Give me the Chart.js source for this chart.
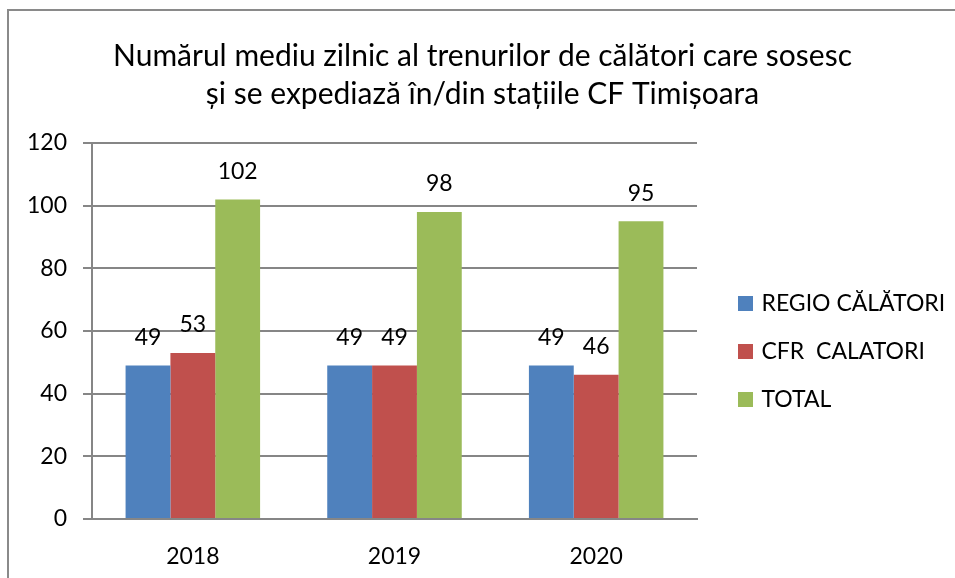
<!DOCTYPE html>
<html>
<head>
<meta charset="utf-8">
<script src="https://cdn.jsdelivr.net/npm/chart.js@4.4.1/dist/chart.umd.min.js"></script>
<style>
  html, body { margin: 0; padding: 0; background: #fff; }
  #wrap { position: absolute; left: 0; top: 0; width: 955px; height: 578px; }
  #frame { position: absolute; left: 7px; top: 9px; width: 960px; height: 600px;
           border-top: 2px solid #8a8a8a; border-left: 2px solid #8a8a8a; pointer-events: none; }
  canvas { position: absolute; left: 0; top: 0; }
</style>
</head>
<body>
<div id="wrap">
  <canvas id="c" width="955" height="578"></canvas>
  <div id="frame"></div>
</div>
<script>
const titleLines = ["Numărul mediu zilnic al trenurilor de călători care sosesc",
                    "și se expediază în/din stațiile CF Timișoara"];
const categories = ["2018", "2019", "2020"];
const seriesNames = ["REGIO CĂLĂTORI", "CFR  CALATORI", "TOTAL"];
const regioValues = [49, 49, 49];
const cfrValues = [53, 49, 46];
const totalValues = [102, 98, 95];
const yTicks = [0, 20, 40, 60, 80, 100, 120];

const FONT = "Lato, 'Noto Sans', sans-serif";
const colors = ["#4F81BD", "#C0504D", "#9BBB59"];
const LEGEND_WIDTH = 248;

// legend swatch: a 34x15 image with the 15x15 coloured square at its right end
function makeSwatch(color) {
  const cv = document.createElement("canvas");
  cv.width = 34; cv.height = 15;
  const g = cv.getContext("2d");
  g.fillStyle = color;
  g.fillRect(19, 0, 15, 15);
  return cv;
}
const swatches = colors.map(makeSwatch);

const legendWidthFix = {
  id: "legendWidthFix",
  beforeLayout(chart) {
    const lg = chart.legend;
    if (lg && !lg.__patched) {
      const orig = lg.fit;
      lg.fit = function () { orig.call(this); this.width = LEGEND_WIDTH; };
      lg.__patched = true;
    }
  }
};

const valueLabels = {
  id: "valueLabels",
  afterDatasetsDraw(chart) {
    const ctx = chart.ctx;
    ctx.save();
    ctx.font = "23px " + FONT;
    ctx.fillStyle = "#000";
    ctx.textAlign = "center";
    ctx.textBaseline = "middle";
    chart.data.datasets.forEach((ds, i) => {
      const meta = chart.getDatasetMeta(i);
      meta.data.forEach((bar, j) => {
        ctx.fillText(String(ds.data[j]), bar.x, bar.y - 28);
      });
    });
    ctx.restore();
  }
};

new Chart(document.getElementById("c"), {
  type: "bar",
  data: {
    labels: categories,
    datasets: [
      { label: seriesNames[0], data: regioValues, backgroundColor: colors[0] },
      { label: seriesNames[1], data: cfrValues, backgroundColor: colors[1] },
      { label: seriesNames[2], data: totalValues, backgroundColor: colors[2] }
    ]
  },
  options: {
    responsive: false,
    animation: false,
    layout: { padding: { left: 20, right: 10, top: 10, bottom: 0 } },
    datasets: { bar: { categoryPercentage: 0.667, barPercentage: 1.0 } },
    plugins: {
      tooltip: { enabled: false },
      title: {
        display: true,
        text: titleLines,
        color: "#000",
        font: { family: FONT, size: 30, weight: "normal", lineHeight: 1.267 },
        padding: { top: 27, bottom: 30 }
      },
      legend: {
        position: "right",
        title: { display: true, text: "", font: { size: 12, lineHeight: 1.2 }, padding: { top: 100, bottom: 0 } },
        labels: {
          usePointStyle: true,
          pointStyleWidth: 28,
          boxWidth: 28, boxHeight: 15,
          padding: 25,
          color: "#000",
          font: { family: FONT, size: 23 },
          generateLabels(chart) {
            const items = Chart.defaults.plugins.legend.labels.generateLabels(chart);
            items.forEach((it, i) => { it.pointStyle = swatches[i]; });
            return items;
          }
        }
      }
    },
    scales: {
      x: {
        grid: { display: false, drawTicks: false },
        border: { display: true, color: "#868686", width: 2 },
        ticks: { color: "#000", font: { family: FONT, size: 23 }, padding: 24 },
        afterFit(scale) { scale.height = 59; }
      },
      y: {
        min: 0, max: 120,
        afterBuildTicks(scale) { scale.ticks = yTicks.map(v => ({ value: v })); },
        grid: { color: "#868686", lineWidth: 2, tickLength: 9, drawTicks: true },
        border: { display: true, color: "#868686", width: 2 },
        ticks: { color: "#000", font: { family: FONT, size: 23 }, padding: 16 },
        afterFit(scale) { scale.width = 72; }
      }
    }
  },
  plugins: [legendWidthFix, valueLabels]
});
</script>
</body>
</html>
